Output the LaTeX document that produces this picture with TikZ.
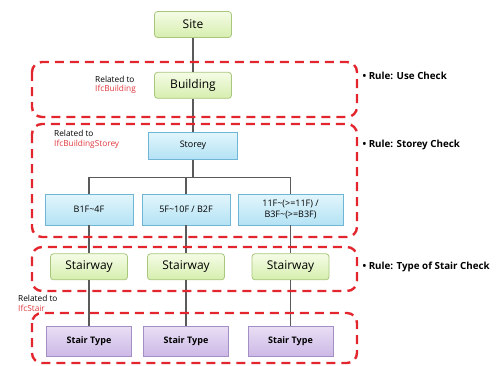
\documentclass[tikz,border=0pt]{standalone}
\usepackage{fontspec}
\setmainfont{Open Sans}
\usetikzlibrary{positioning}

\definecolor{greenline}{HTML}{A9C77C}
\definecolor{greentop}{HTML}{F5FCE6}
\definecolor{greenbot}{HTML}{D6EEAE}
\definecolor{blueline}{HTML}{6FB6D6}
\definecolor{bluetop}{HTML}{E2F6FC}
\definecolor{bluebot}{HTML}{B4E2F4}
\definecolor{purpleline}{HTML}{A48EC6}
\definecolor{purpletop}{HTML}{E8DEF4}
\definecolor{purplebot}{HTML}{CCB8E6}
\definecolor{framered}{HTML}{E3262E}
\definecolor{ifcred}{HTML}{E0383C}
\definecolor{linkgray}{HTML}{5A5A5A}

\begin{document}
\begin{tikzpicture}[x=1pt,y=-1pt,
    greenbox/.style={rectangle,rounded corners=3pt,draw=greenline,line width=0.8pt,
        top color=greentop,bottom color=greenbot,minimum width=77pt,minimum height=26pt,
        font=\fontsize{12}{14}\selectfont},
    bluebox/.style={rectangle,draw=blueline,line width=0.8pt,
        top color=bluetop,bottom color=bluebot,minimum width=88pt,minimum height=31pt,
        align=center,font=\fontsize{9}{11}\selectfont},
    purplebox/.style={rectangle,draw=purpleline,line width=0.8pt,
        top color=purpletop,bottom color=purplebot,minimum width=85pt,minimum height=30pt,
        font=\fontsize{9}{11}\selectfont\bfseries},
    link/.style={draw=linkgray,line width=1.1pt},
    checkframe/.style={draw=framered,line width=2.4pt,dash pattern=on 9pt off 6pt,rounded corners=10pt},
    rulelabel/.style={anchor=west,font=\fontsize{9.8}{12}\selectfont\bfseries},
    relatedlabel/.style={align=left,font=\fontsize{8.3}{9.5}\selectfont,inner sep=0pt}]
    \useasboundingbox (0,0) rectangle (502,365);

    % hierarchy
    \node[greenbox] (site) at (193,24.5) {Site};
    \node[greenbox, below=34pt of site] (building) {Building};
    \node[bluebox, minimum width=89pt, minimum height=27pt, below=33pt of building] (storey) {Storey};
    \coordinate[below=18pt of storey] (bus);
    \node[bluebox] (lvl1) at (89,209.5) {B1F\textasciitilde 4F};
    \node[bluebox] (lvl2) at (186,209.5) {5F\textasciitilde 10F / B2F};
    \node[bluebox, minimum width=105pt] (lvl3) at (290.5,209.5) {11F\textasciitilde (>=11F) /\\B3F\textasciitilde (>=B3F)};

    \draw[link] (site) -- (building);
    \draw[link] (building) -- (storey);
    \draw[link] (storey) -- (bus);
    \foreach \l in {1,2,3} {
        \draw[link] (bus) -| (lvl\l.north);
        \node[greenbox, below=28pt of lvl\l] (stair\l) {Stairway};
        \node[purplebox, below=46pt of stair\l] (type\l) {Stair Type};
        \draw[link] (lvl\l) -- (stair\l);
        \draw[link] (stair\l) -- (type\l);
    }

    % check frames
    \draw[checkframe] (32,62) rectangle (357,117);
    \draw[checkframe] (32,124) rectangle (357,237);
    \draw[checkframe] (32,247) rectangle (357,291);
    \draw[checkframe] (32,313) rectangle (357,363);

    % related labels
    \node[relatedlabel, anchor=east] (relbuilding) at (136,85) {Related to\\\textcolor{ifcred}{IfcBuilding}};
    \node[relatedlabel, anchor=north west] (relstorey) at (54,130) {Related to\\\textcolor{ifcred}{IfcBuildingStorey}};
    \node[relatedlabel, anchor=north west] (relstair) at (18,295) {Related to\\\textcolor{ifcred}{IfcStair}};

    % rules
    \node[rulelabel] (userule) at (359,76) {\textbullet\ Rule: Use Check};
    \node[rulelabel] (storeyrule) at (359,145) {\textbullet\ Rule: Storey Check};
    \node[rulelabel] (stairrule) at (359,267) {\textbullet\ Rule: Type of Stair Check};
\end{tikzpicture}
\end{document}
